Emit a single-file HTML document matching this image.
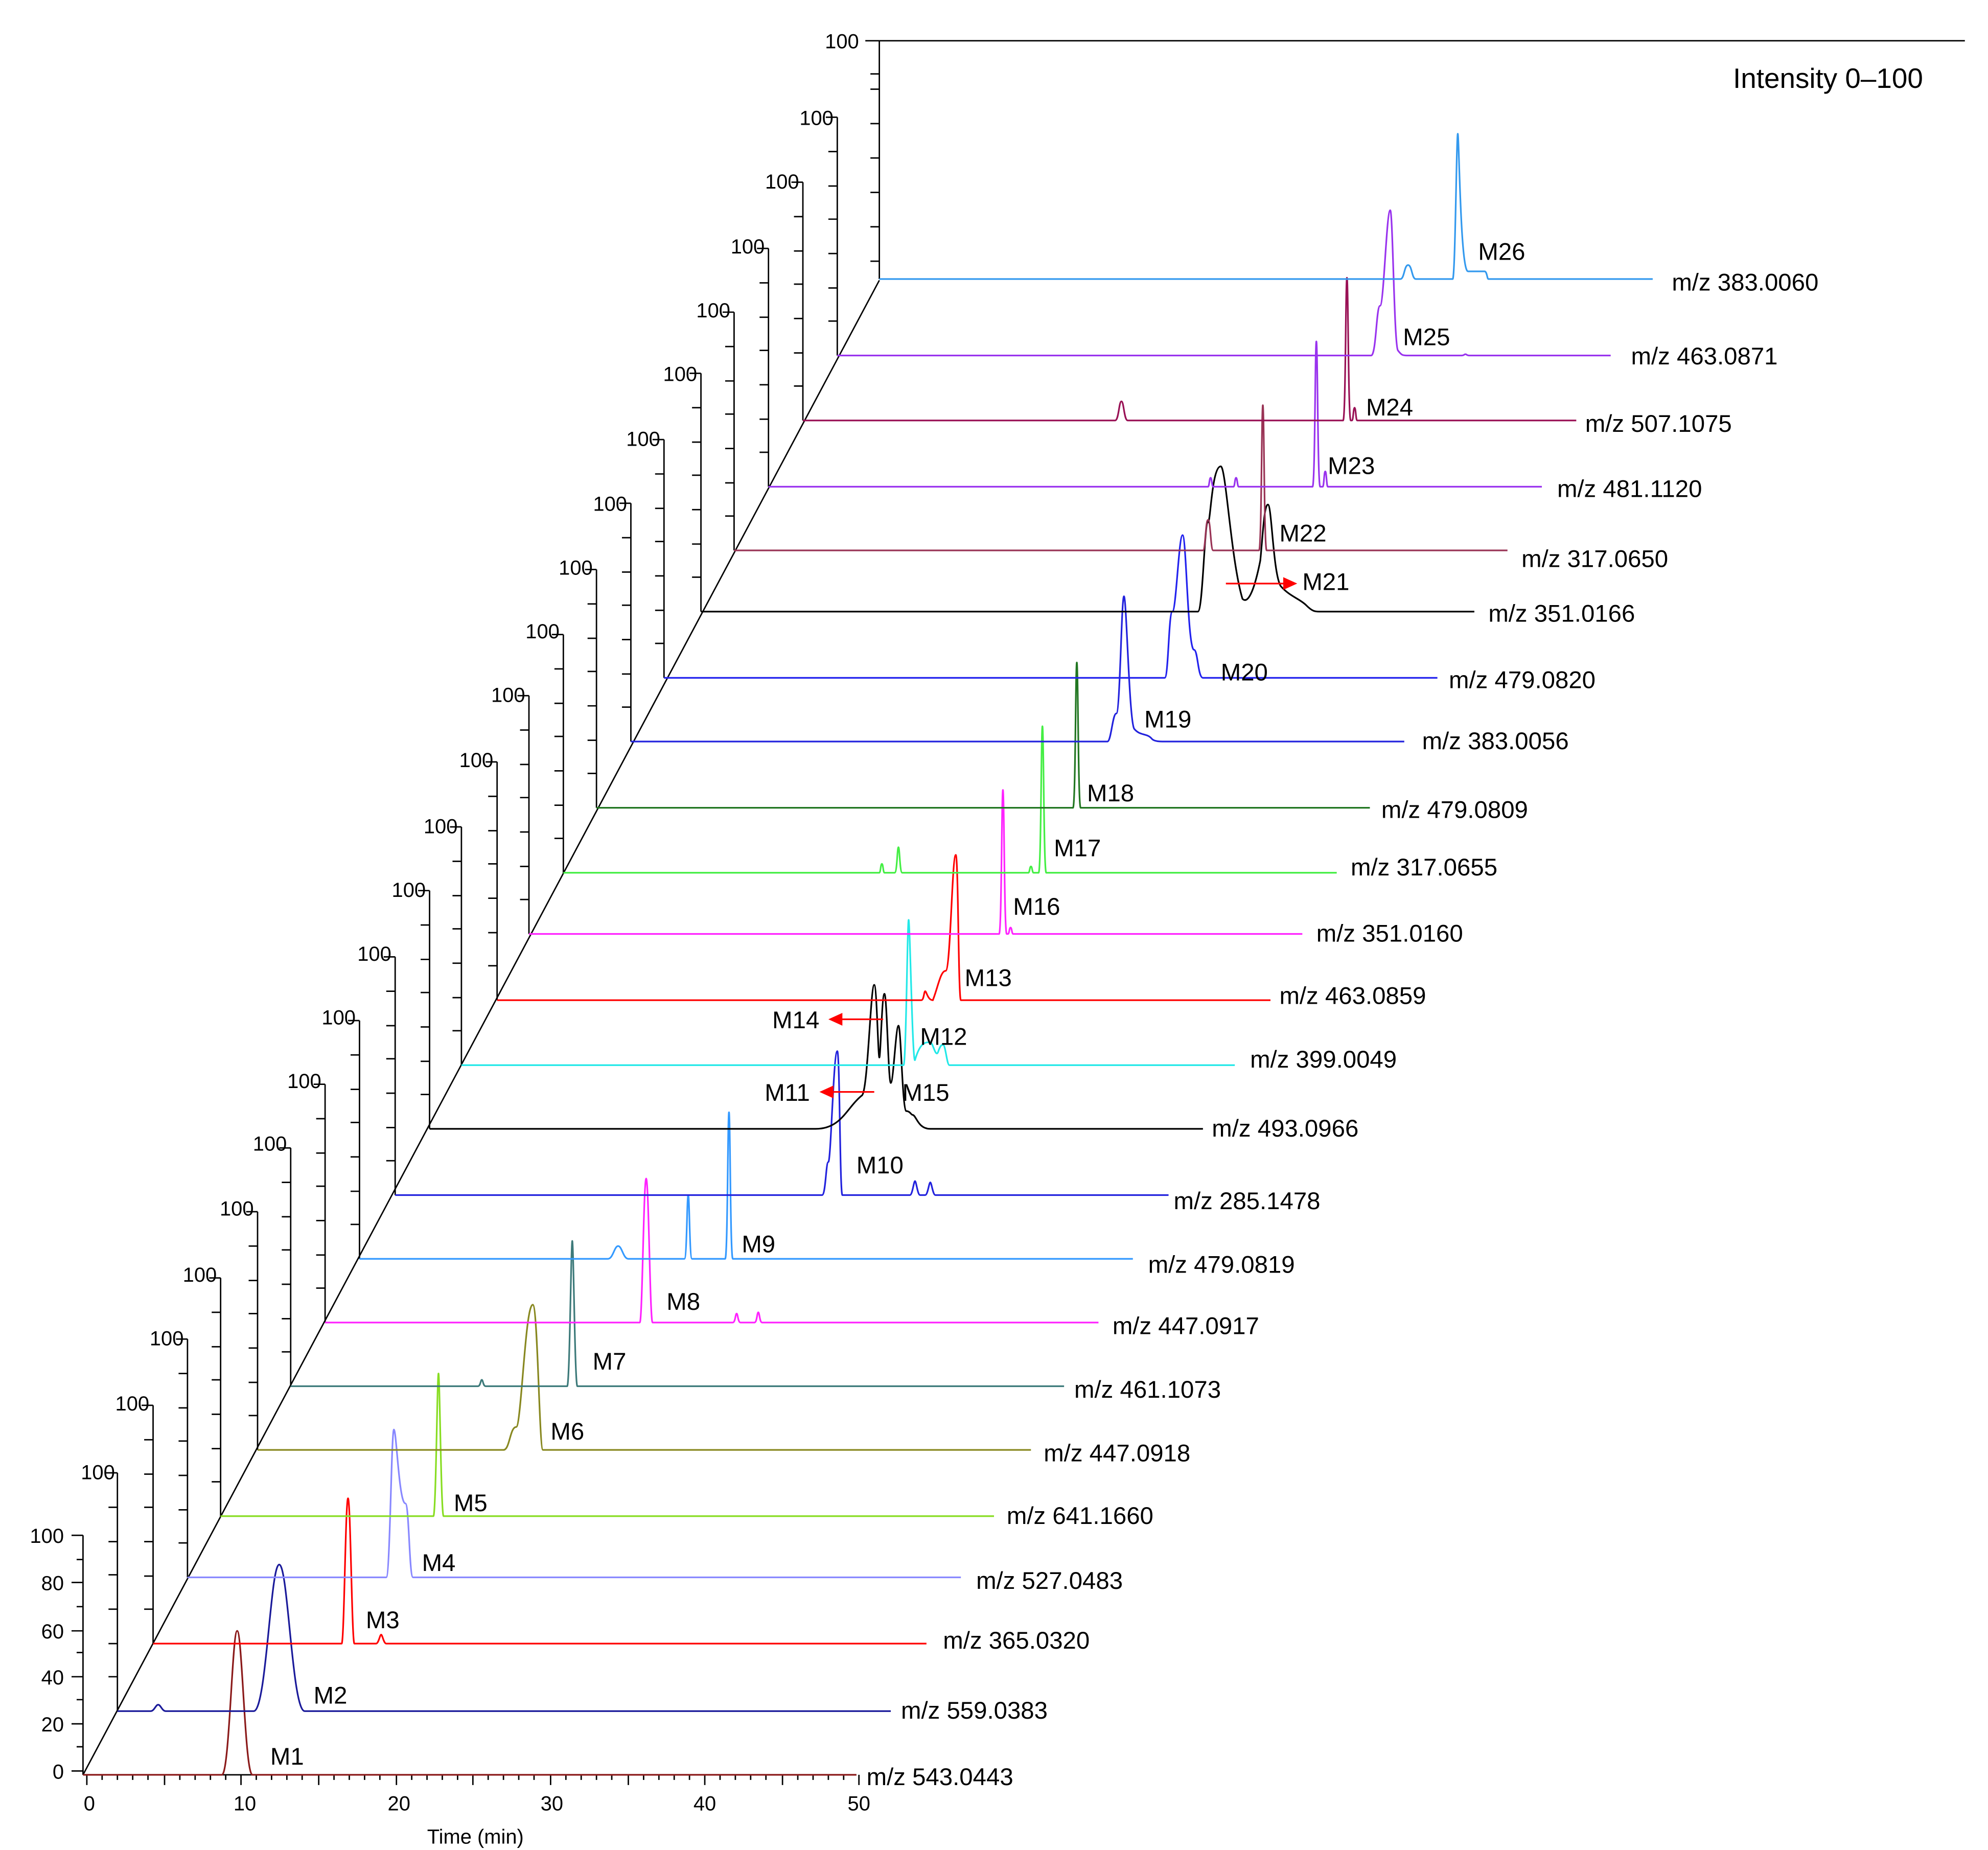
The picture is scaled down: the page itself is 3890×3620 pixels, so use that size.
<!DOCTYPE html>
<html><head><meta charset="utf-8"><style>
html,body{margin:0;padding:0;background:#fff}
svg{display:block}
text{font-family:"Liberation Sans",Arial,sans-serif;fill:#000}
.l{font-size:19px}
.h{font-size:16px;text-anchor:end}
.t{fill:none;stroke-width:1.3}
</style></head><body>
<svg width="3890" height="3620" viewBox="0 0 1560 1452" xmlns="http://www.w3.org/2000/svg">
<defs>
<g id="ax" stroke="#000" stroke-width="1.1" fill="none">
<path d="M0 0V-187M0 -187H-9M0 -160H-7M0 -133H-7M0 -107H-7M0 -80H-7M0 -53H-7M0 -27H-7"/>
</g>
</defs>
<rect width="1560" height="1452" fill="#fff"/>
<!-- diagonal and top frame -->
<g stroke="#000" stroke-width="1.1" fill="none">
<path d="M65 1393L690 220"/>
<path d="M690 32H1542"/>
<path d="M690 219V32M690 32H679M690 58H683M690 70H683M690 97H683M690 124H683M690 151H683M690 178H683M690 205H683"/>
<!-- M1 axis -->
<path d="M65 1393V1205M65 1390H56M65 1353H56M65 1316H56M65 1280H56M65 1242H56M65 1205H56M65 1371H60M65 1334H60M65 1297H60M65 1261H60M65 1224H60"/>
<!-- x axis -->
<path d="M65 1393H672M68 1393v8M129 1393v8M189 1393v8M250 1393v8M311 1393v8M371 1393v8M432 1393v8M493 1393v8M553 1393v8M614 1393v8M674 1393v8"/>
<path d="M80 1393v4M92 1393v4M104 1393v4M116 1393v4M141 1393v4M153 1393v4M165 1393v4M177 1393v4M201 1393v4M213 1393v4M225 1393v4M237 1393v4M262 1393v4M274 1393v4M286 1393v4M298 1393v4M323 1393v4M335 1393v4M347 1393v4M359 1393v4M383 1393v4M395 1393v4M407 1393v4M419 1393v4M444 1393v4M456 1393v4M468 1393v4M480 1393v4M505 1393v4M517 1393v4M529 1393v4M541 1393v4M565 1393v4M577 1393v4M589 1393v4M601 1393v4M626 1393v4M638 1393v4M650 1393v4M662 1393v4"/>
</g>
<use href="#ax" x="92" y="1343"/><use href="#ax" x="120" y="1290"/><use href="#ax" x="147" y="1238"/>
<use href="#ax" x="173" y="1190"/><use href="#ax" x="202" y="1138"/><use href="#ax" x="228" y="1088"/>
<use href="#ax" x="255" y="1038"/><use href="#ax" x="282" y="988"/><use href="#ax" x="310" y="938"/>
<use href="#ax" x="337" y="886"/><use href="#ax" x="362" y="836"/><use href="#ax" x="390" y="785"/>
<use href="#ax" x="415" y="733"/><use href="#ax" x="442" y="685"/><use href="#ax" x="468" y="634"/>
<use href="#ax" x="495" y="582"/><use href="#ax" x="521" y="532"/><use href="#ax" x="550" y="480"/>
<use href="#ax" x="576" y="432"/><use href="#ax" x="603" y="382"/><use href="#ax" x="630" y="330"/>
<use href="#ax" x="657" y="279"/>

<!-- 100 labels -->
<text class="h" x="50" y="1211">100</text>
<text class="h" x="90" y="1161">100</text>
<text class="h" x="117" y="1107">100</text>
<text class="h" x="144" y="1056">100</text>
<text class="h" x="170" y="1006">100</text>
<text class="h" x="199" y="954">100</text>
<text class="h" x="225" y="903">100</text>
<text class="h" x="252" y="854">100</text>
<text class="h" x="279" y="804">100</text>
<text class="h" x="307" y="754">100</text>
<text class="h" x="334" y="704">100</text>
<text class="h" x="359" y="654">100</text>
<text class="h" x="387" y="602">100</text>
<text class="h" x="412" y="551">100</text>
<text class="h" x="439" y="501">100</text>
<text class="h" x="465" y="451">100</text>
<text class="h" x="492" y="401">100</text>
<text class="h" x="518" y="350">100</text>
<text class="h" x="547" y="299">100</text>
<text class="h" x="573" y="249">100</text>
<text class="h" x="600" y="199">100</text>
<text class="h" x="627" y="148">100</text>
<text class="h" x="654" y="98">100</text>
<text class="h" x="674" y="38">100</text>

<!-- M1 axis labels -->
<g font-size="16" text-anchor="end">
<text class="h" x="50" y="1396">0</text>
<text class="h" x="50" y="1359">20</text>
<text class="h" x="50" y="1322">40</text>
<text class="h" x="50" y="1286">60</text>
<text class="h" x="50" y="1248">80</text>
</g>
<g font-size="16" text-anchor="middle">
<text x="70" y="1421" style="font-size:16px">0</text>
<text x="192" y="1421" style="font-size:16px">10</text>
<text x="313" y="1421" style="font-size:16px">20</text>
<text x="433" y="1421" style="font-size:16px">30</text>
<text x="553" y="1421" style="font-size:16px">40</text>
<text x="674" y="1421" style="font-size:16px">50</text>
<text x="373" y="1447" style="font-size:16px">Time (min)</text>
</g>
<text x="1360" y="69" style="font-size:22px">Intensity 0–100</text>

<!-- traces -->
<path class="t" stroke="#8b1a1a" d="M65 1393H174C180 1393 182 1280 186 1280C190 1280 192 1393 198 1393H672"/>
<path class="t" stroke="#1a1a9a" d="M92 1343H118C121 1343 122 1338 124 1338C126 1338 127 1343 130 1343H199C209 1343 212 1228 219 1228C226 1228 229 1343 239 1343H699"/>
<path class="t" stroke="#ff0000" d="M120 1290H268C270 1290 271 1176 273 1176C275 1176 276 1290 278 1290H295C297 1290 298 1283 299 1283C300 1283 301 1290 303 1290H727"/>
<path class="t" stroke="#8888ff" d="M147 1238H303C306 1238 307 1122 309 1122C311 1122 313 1180 318 1180C321 1180 321 1238 324 1238H754"/>
<path class="t" stroke="#88dd22" d="M173 1190H340C342 1190 343 1078 344 1078C345 1078 346 1190 348 1190H780"/>
<path class="t" stroke="#888820" d="M202 1138H395C400 1138 400 1120 405 1120C409 1120 412 1024 418 1024C422 1024 423 1138 426 1138H809"/>
<path class="t" stroke="#3d7a7a" d="M228 1088H375C377 1088 377 1083 378 1083C379 1083 379 1088 381 1088H445C447 1088 448 974 449 974C450 974 451 1088 453 1088H835"/>
<path class="t" stroke="#ff22ff" d="M255 1038H502C504 1038 505 925 507 925C509 925 510 1038 512 1038H575C577 1038 577 1031 578 1031C579 1031 579 1038 581 1038H592C594 1038 594 1030 595 1030C596 1030 596 1038 598 1038H862"/>
<path class="t" stroke="#3399ff" d="M282 988H477C481 988 482 978 485 978C488 978 489 988 493 988H537C539 988 539 938 540 938C541 938 541 988 543 988H569C571 988 571 873 572 873C573 873 573 988 575 988H889"/>
<path class="t" stroke="#2222dd" d="M310 938H645C648 938 648 912 650 912C652 912 654 825 657 825C659 825 659 938 661 938H714C716 938 717 927 718 927C719 927 720 938 722 938H726C728 938 729 928 730 928C731 928 732 938 734 938H917"/>
<path class="t" stroke="#000" d="M337 886H640C660 886 664 870 676 860C681 860 683 773 686 773C688 773 689 830 690 830C691 830 692 780 694 780C696 780 697 850 699 850C701 850 703 805 705 805C707 805 708 870 711 872C714 872 715 875 716 875C719 875 720 886 730 886H944"/>
<path class="t" stroke="#22e8e8" d="M362 836H709C711 836 712 722 713 722C714 722 716 836 718 832C722 818 726 818 730 818C732 818 734 830 736 826C738 820 739 820 740 820C742 820 743 836 745 836H969"/>
<path class="t" stroke="#ff0000" d="M390 785H723C725 785 725 778 726 778C727 778 728 785 732 785C736 775 738 762 742 762C746 762 747 671 750 671C752 671 752 785 754 785H997"/>
<path class="t" stroke="#ff22ff" d="M415 733H784C786 733 786 620 787 620C788 620 788 733 790 733H791C792 733 792 728 793 728C794 728 794 733 795 733H1022"/>
<path class="t" stroke="#44ee44" d="M442 685H690C691 685 691 678 692 678C693 678 693 685 694 685H702C704 685 704 665 705 665C706 665 706 685 708 685H807C808 685 808 680 809 680C810 680 810 685 811 685H815C817 685 817 570 818 570C819 570 819 685 821 685H1049"/>
<path class="t" stroke="#227722" d="M468 634H842C844 634 844 520 845 520C846 520 846 634 848 634H1075"/>
<path class="t" stroke="#2222dd" d="M495 582H869C872 582 873 560 876 560C879 560 880 468 882 468C884 468 886 565 890 572C895 578 900 575 904 580C906 582 910 582 914 582H1102"/>
<path class="t" stroke="#2222ee" d="M521 532H914C917 532 917 480 920 480C923 480 925 420 928 420C931 420 932 510 937 510C940 510 940 532 944 532H1128"/>
<path class="t" stroke="#000" d="M550 480H940C944 480 945 410 948 410C950 410 951 366 958 366C962 366 966 440 975 470C980 475 985 460 989 440C991 420 992 396 995 396C998 396 999 450 1005 460C1012 468 1020 470 1025 475C1030 480 1032 480 1035 480H1157"/>
<path class="t" stroke="#993355" d="M576 432H944C946 432 946 408 948 408C950 408 950 432 952 432H988C990 432 990 318 991 318C992 318 992 432 994 432H1183"/>
<path class="t" stroke="#9933ee" d="M603 382H948C949 382 949 375 950 375C951 375 951 382 952 382H968C969 382 969 375 970 375C971 375 971 382 972 382H1030C1032 382 1032 268 1033 268C1034 268 1034 382 1036 382H1038C1039 382 1039 370 1040 370C1041 370 1041 382 1042 382H1210"/>
<path class="t" stroke="#991155" d="M630 330H875C878 330 878 315 880 315C882 315 882 330 885 330H1054C1056 330 1056 218 1057 218C1058 218 1058 330 1060 330H1061C1062 330 1062 320 1063 320C1064 320 1064 330 1065 330H1237"/>
<path class="t" stroke="#9933ee" d="M657 279H1076C1080 279 1080 240 1083 240C1086 240 1088 165 1091 165C1093 165 1094 270 1097 275C1100 279 1101 279 1104 279H1147C1149 279 1149 278 1150 278C1151 278 1151 279 1153 279H1264"/>
<path class="t" stroke="#3399ee" d="M690 219H1099C1102 219 1102 208 1105 208C1108 208 1108 219 1111 219H1140C1142 219 1143 105 1144 105C1145 105 1146 213 1152 213C1158 213 1160 213 1165 213C1167 213 1167 219 1168 219H1297"/>

<!-- red arrows -->
<g stroke="#ff0000" stroke-width="1.3" fill="#ff0000">
<path d="M693 800H660"/><path d="M650 800L661 795L661 805Z" stroke="none"/>
<path d="M686 857H653"/><path d="M643 857L654 852L654 862Z" stroke="none"/>
<path d="M962 458H1008"/><path d="M1018 458L1007 453L1007 463Z" stroke="none"/>
</g>

<!-- M labels -->
<g class="l">
<text class="l" x="212" y="1385">M1</text>
<text class="l" x="246" y="1337">M2</text>
<text class="l" x="287" y="1278">M3</text>
<text class="l" x="331" y="1233">M4</text>
<text class="l" x="356" y="1186">M5</text>
<text class="l" x="432" y="1130">M6</text>
<text class="l" x="465" y="1075">M7</text>
<text class="l" x="523" y="1028">M8</text>
<text class="l" x="582" y="983">M9</text>
<text class="l" x="672" y="921">M10</text>
<text class="l" x="600" y="864">M11</text>
<text class="l" x="722" y="820">M12</text>
<text class="l" x="757" y="774">M13</text>
<text class="l" x="606" y="807">M14</text>
<text class="l" x="708" y="864">M15</text>
<text class="l" x="795" y="718">M16</text>
<text class="l" x="827" y="672">M17</text>
<text class="l" x="853" y="629">M18</text>
<text class="l" x="898" y="571">M19</text>
<text class="l" x="958" y="534">M20</text>
<text class="l" x="1022" y="463">M21</text>
<text class="l" x="1004" y="425">M22</text>
<text class="l" x="1042" y="372">M23</text>
<text class="l" x="1072" y="326">M24</text>
<text class="l" x="1101" y="271">M25</text>
<text class="l" x="1160" y="204">M26</text>
</g>
<!-- m/z labels -->
<text class="l" x="680" y="1401">m/z 543.0443</text>
<text class="l" x="707" y="1349">m/z 559.0383</text>
<text class="l" x="740" y="1294">m/z 365.0320</text>
<text class="l" x="766" y="1247">m/z 527.0483</text>
<text class="l" x="790" y="1196">m/z 641.1660</text>
<text class="l" x="819" y="1147">m/z 447.0918</text>
<text class="l" x="843" y="1097">m/z 461.1073</text>
<text class="l" x="873" y="1047">m/z 447.0917</text>
<text class="l" x="901" y="999">m/z 479.0819</text>
<text class="l" x="921" y="949">m/z 285.1478</text>
<text class="l" x="951" y="892">m/z 493.0966</text>
<text class="l" x="981" y="838">m/z 399.0049</text>
<text class="l" x="1004" y="788">m/z 463.0859</text>
<text class="l" x="1033" y="739">m/z 351.0160</text>
<text class="l" x="1060" y="687">m/z 317.0655</text>
<text class="l" x="1084" y="642">m/z 479.0809</text>
<text class="l" x="1116" y="588">m/z 383.0056</text>
<text class="l" x="1137" y="540">m/z 479.0820</text>
<text class="l" x="1168" y="488">m/z 351.0166</text>
<text class="l" x="1194" y="445">m/z 317.0650</text>
<text class="l" x="1222" y="390">m/z 481.1120</text>
<text class="l" x="1244" y="339">m/z 507.1075</text>
<text class="l" x="1280" y="286">m/z 463.0871</text>
<text class="l" x="1312" y="228">m/z 383.0060</text>
</svg>
</body></html>
